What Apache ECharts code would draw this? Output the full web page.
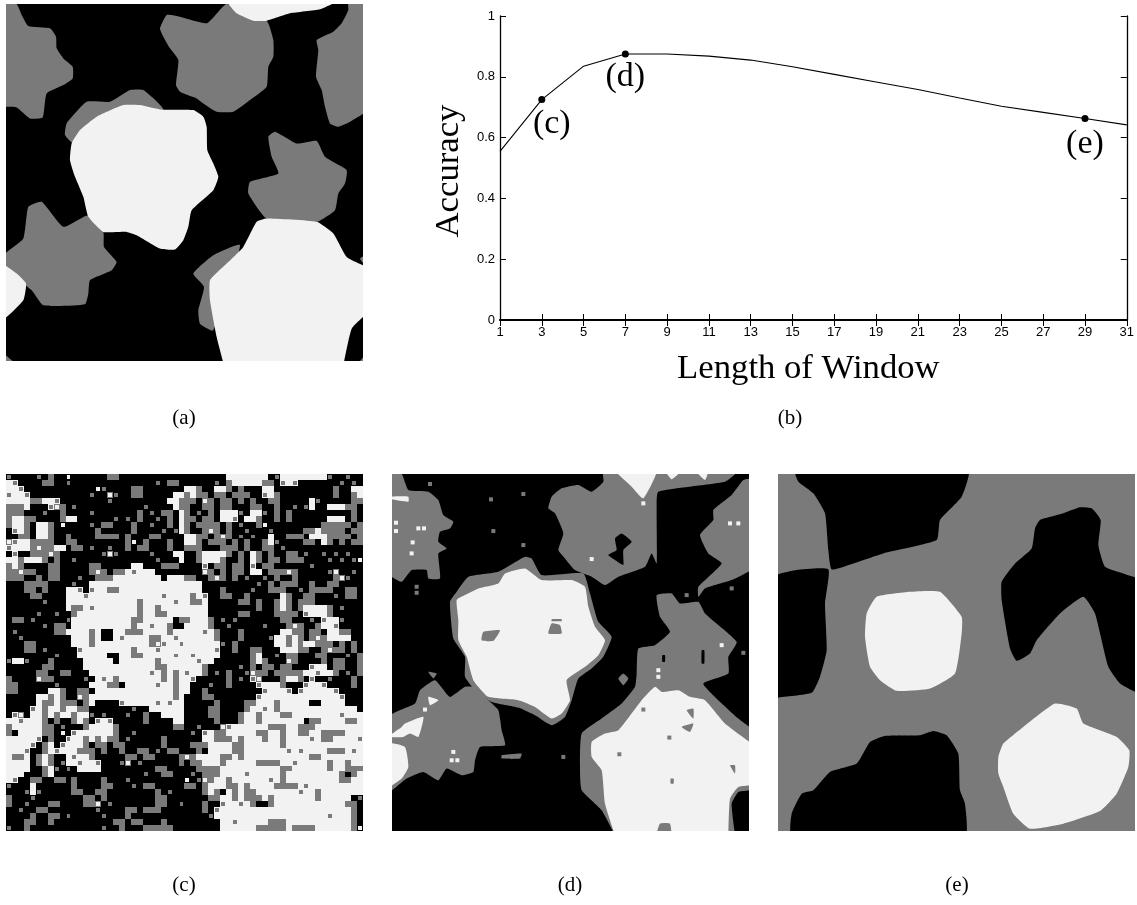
<!DOCTYPE html>
<html>
<head>
<meta charset="utf-8">
<script src="https://cdn.jsdelivr.net/npm/echarts@6/dist/echarts.min.js"></script>
<style>html,body{margin:0;padding:0;background:#fff}#c{width:1137px;height:905px}</style>
</head>
<body>
<div id="c"></div>
<script>
// ---- panel (b): accuracy against window length
const windowLengths = ['1','3','5','7','9','11','13','15','17','19','21','23','25','27','29','31'];
const accuracy = [0.555,0.725,0.835,0.875,0.875,0.868,0.855,0.833,0.808,0.783,0.758,0.73,0.703,0.683,0.663,0.642];
const markedWindows = ['3','7','29'];
const markedNames = ['(c)','(d)','(e)'];
const accuracyTicks = [0,0.2,0.4,0.6,0.8,1];

// ---- panel (a): outlines
const aGrey = [
 [[10,4],[10,4],[50,12],[65,45],[85,78],[150,85],[168,110],[170,145],[190,175],[218,200],[218,235],[190,255],[140,280],[128,352],[90,355],[50,322],[10,320],[10,320]],
 [[500,45],[530,48],[620,70],[655,35],[680,12],[800,62],[820,120],[820,170],[805,200],[800,260],[750,300],[700,335],[650,335],[610,310],[590,295],[540,275],[528,255],[535,180],[510,145],[490,110],[480,85]],
 [[1045,4],[1100,4],[1100,4],[1100,330],[1050,365],[1015,380],[990,370],[975,320],[965,270],[948,230],[955,150],[950,120],[1000,95],[1025,70],[1045,30]],
 [[200,370],[260,305],[330,305],[390,270],[430,270],[490,330],[300,400],[220,430],[195,405]],
 [[805,410],[825,395],[890,430],[950,422],[975,470],[1040,510],[1035,550],[1015,580],[1005,630],[950,665],[800,655],[745,580],[750,545],[835,520],[815,470]],
 [[580,820],[640,765],[720,735],[640,990],[600,970],[595,930],[612,860]],
 [[10,765],[70,715],[85,620],[125,605],[190,680],[265,645],[310,695],[312,740],[350,785],[335,810],[270,840],[265,880],[255,912],[130,915],[95,870],[10,800]],
 [[1075,1090],[1100,1060],[1100,1090]],
 [[10,1060],[45,1090],[10,1090]],
 [[1080,775],[1100,765],[1100,800]]
];
const aWhite = [
 [[680,0],[710,40],[760,62],[800,62],[870,40],[960,28],[1015,0]],
 [[215,430],[240,390],[290,350],[370,315],[420,315],[480,328],[580,330],[610,350],[620,380],[622,450],[640,490],[655,530],[640,570],[575,630],[565,680],[550,720],[525,748],[480,745],[410,705],[380,695],[310,695],[265,650],[250,590],[225,530],[210,480]],
 [[630,840],[680,790],[730,740],[770,665],[800,655],[950,665],[1000,700],[1040,770],[1100,800],[1100,800],[1100,940],[1100,940],[1055,985],[1030,1095],[1030,1095],[672,1095],[672,1095],[650,1010],[630,900]],
 [[10,795],[50,820],[78,850],[70,900],[10,955]]
];

// ---- panel (c): cell classes, . black, g grey, W white
const cTopLeft = [
"g....g.g..W......gg...........","Wg....gg..g..............g.gg.","WWg............Wg....gg.......","gWWg..........g..Wg..gg.....WW","WWWWggWWg........g.........WWg",
"gggW...gWg.g...........g....Wg","ggg...g..g....g.......g.g.gg.W","gWWgg....gWW......g.g.g..g.g.W","gWWg.WWg.W....g.gg...g..g..g.W",".gWg.WWg.......g.....g....g.gW",
"..gg.WWg..g....gggg.g...gg....","WgWWgggg..gg........gW.g...g..","gWWWgWggWW.gg.g..g..g.gg...g..",".g..gggWg.......gWg.....g...WW","WWgWWWg.g..g.............g...W",
"gWg....gg.....gg.....WW...ggg.","ggWgg..gg.....gWg.ggWgWWW.....","ggg..g.gg...g..gggWWWWWWWW.WWW","...gggg....g..WWWWWWWWWWWWWWWW","...gg.g...WWg.gWWggWWWWWWWWWWW",
"....gg....WWWgWWWWWWWWWWWWgWWW","......g...WWWWWWWWWWWWgWWWWWgW","..........WggWgWWWWWWWgWWgWWWW",".....g..g..gWWWWWWWWWWgWWggWWW",".gg.g.....gWWWWWWWWWWggWWWWW.g",
"......g.gg.WWWWWWWWWWgWWgWWg..",".g......ggWWWWgW..WWgggWWWWgWW","..g........WWWgW..WgWWWWggWWgW","...gg......WWWgWWWWWWWWWgWgWWg","...gg.g.....gWWWWWWWWgWWWgWWWW"
];
const cTopRight = [
".......WWWWWWW.gWWWWWWWWg..g..",".....g.gWWWWWgg.gWg.......g.g.","WWg..WWg.g...WW..........g..WW","gWgg.gg.ggg..gWg.........g..gW","gg.Wg.gg.g.g..gg.....Wg.....gg",
"g..gg.gg...gg..g..g.gW..WWWgg.","g.g.g.WWWg.WWg.g.g..........g.","gg.gg.WWg.WWg..g.g......WWW.g.","g.gggg.g.g..gW.........ggggg.g","g..gWg.g..g...g.....ggWgggg.gg",
"WWgg.gWg.g.g..W..ggg.WWWgggg.g","WWg.ggg.g.g..gWg....gg.Wg.g.gg","ggg...ggg.g..gg.g.............","..gWWWWg.g.Wg.g..gg.g..g.g.g..","..gWWWg..g.Wg.gg.ggg....g.g.gW",
"...g.gg.gg.g.gg......g........","...Wg.g.gg.WW.gggWg.....gW..g.","gg..gWg.g.g..g.g..g......gWg..","WWW.........g.g.ggg..g..gg....","WWW...g....g..ggg..g.gggg..gg.",
"WgWg..gg..g.....Wg..gg...g.gg.","WggW.....gg.g..gWg.ggg........","WWWW........g..gWg.gWWWWg.g...","WWWW.....gg....gggg.gWWWg.....","gWWWg.g.g.......gg...g.gWWg...",
"WWWWg..g.....g...gWg..gWWg....","WWWgWg...g......WWgg.gg.WWgg..","WWWWWg...g....gWWgWg.gWgWWWW..","WWWWWWg.g......WWgWgWWggg.g.g.","WWWWWg..g..gg...WWWgg..gWgg.g."
];
const cBottomLeft = [
"........g...WWWWW..WWggWWWWWgW","gWWg...g.....WWWWW.WWWWWWgWWWW","......gg.....WWWWWWWWWWWWggWWW",".....gg..gg...WWWWWWWWWWgWgWgW","g....Wgg.....g.WgWgWWWWWWWgWgW",
"gg......g.....WWWgg.WWWWWgWWgW","gg.....WWg..gg.WWWWWWWWWWWWWgW",".....WWgWg..WgWWWWWWWWWWWWWWgW",".....WggWggg.gW....gWWWWWgWgWW","....gWgWWgWWgg.......g..WWWWWW",
".gW.WWgWgWWgWWg.g...g..g..WWWW","WWgWWWg.g..gWg.gWg.....g....WW","gWWWWWgg.g...gWWWWg.........gg","g.WWWWgg.W.gWWWWWWg..g........","WWWWWg.g..gWWgWgWgg.g.....g...",
"WWWWg.gW.gWWWg.gg.gg......g...","WWWg..gWgWWWggg.g..g..gg.g.gg.","WggW.gWg..WgWWg.....gg.gg....g","WWWW.gWg.gWWgWWg...gW.g......g","WWWW..gWg.g.WWWW.........gg...",
"WWW...gW...............g..gg..","Wg..gg..gg.g....g...g.........","g...W......g....gg...g.gg.....","...gWg.....gg..gg........g.g..","g...g........gg.g........gg...",
"g..g...gg....ggW.g.......gg..g","..g..gg........g....gg.ggg....","....g..gg.g.....g...g.........","...gg..g..........gg.gg...g...","g..g............g..g...ggggg.."
];
const cBottomRight = [
"WgWWWW.....gW..g.gg...gg...g.g","WWgWW......gWg...Wg....g.gg..g","WWWg.....g.g.gg.gg...gWW.gg..g","gWWg.g.g..gWgg.gggggWWgWWg.g.g","Wg.....g.g.gW...gWWg.g..g...g.",
"W...g..g....gWWWg...gWWg....g.","W..g.........gWWWg.gWWWWWg....","...gg.......gWWWWWWWWWWWWWg...",".....g....ggWWWgWWWWW..WWWW...","....gg....gWWgWgWWWWWWWWWWWWW.",
"....gg...gWWgWWWggWWWWWWWWgWWW",".....g...gWWgWWWWWWW.ggWWWWggW","..g...WgWWWWWWgggWWgggWWWWWWWW",".g.gWggWWWWWggWWgWWggWWggggWWW","...WWgggWgWWWgWWgWWWWgWggWWWWg",
".gggWWWWggWWWWWWgWWWWWWWWWWWWW","..g.WWWWggWWWWWWWgWgWWWWgggWgW","WgWWWWggWgWWWWWWWWWWWggWWWWWWW",".ggWWWgWWWWWggggWWgWWWWWgWWgWW","..ggggWWWWWWWWWWggWWWWWWgWWggg",
".g.gggWWWWgWWWWWgWWWWWWWWWg.gW","W.gWgWWgWWWWWWgWgWWWWWWWWWggWW","gg.gWWWggWgWWWWggggWgWWWWWWWWW","...gWg.WgWggWWWWWWWgWWgWWWWWWW","....ggWWgWgggWgWWWWWWWgWWWWW.g",
"...g..gWWgWg..gWWWWWWWWWWWWgg.","...g.gWWWWWWWWWWWWWWWWWWWWWWg.","....gWWWWWWWWWWWWWWWWWWWgWWWg.","......WWgWWWWWgggWWWWWWWWWWWg.","......WWWWWWgggggWggggWWWWWWgW"
];

// ---- panel (d): outlines and specks
const dGrey = [
 [[10,4],[10,4],[50,12],[70,60],[130,65],[160,90],[175,135],[205,155],[195,175],[165,185],[160,215],[185,235],[160,250],[165,325],[130,325],[125,300],[80,300],[50,335],[10,310]],
 [[655,0],[1060,0],[1020,35],[820,65],[815,120],[815,280],[800,250],[780,290],[700,320],[660,345],[620,320],[570,300],[540,265],[520,240],[535,190],[510,130],[490,115],[500,80],[530,55],[580,45],[620,65],[655,35]],
 [[1075,30],[1100,25],[1100,25],[1100,300],[1100,300],[1040,330],[960,355],[940,380],[940,350],[1010,280],[970,250],[945,195],[985,150],[985,120],[1040,75]],
 [[195,395],[215,365],[250,320],[340,305],[420,260],[440,265],[470,315],[595,310],[615,370],[640,455],[680,500],[655,560],[620,595],[580,625],[560,690],[540,740],[500,765],[450,735],[400,712],[320,695],[270,660],[240,620],[240,560],[205,505]],
 [[815,375],[860,370],[885,400],[940,395],[960,430],[1055,515],[1030,560],[1030,610],[955,640],[1000,690],[1060,745],[1100,775],[1100,775],[1100,960],[1100,960],[1060,965],[1040,1000],[1050,1095],[1050,1095],[690,1095],[690,1095],[650,1020],[590,960],[585,900],[590,790],[650,745],[710,700],[750,650],[755,610],[760,535],[810,525],[855,485],[825,440]],
 [[10,740],[90,700],[105,660],[150,630],[195,680],[240,650],[265,650],[310,690],[340,720],[350,780],[360,825],[285,830],[270,870],[265,905],[230,915],[185,895],[160,930],[115,905],[65,925],[10,965]],
 [[700,625],[715,610],[730,625],[715,645]],
 [[130,605],[155,610],[145,625]],
 [[350,855],[410,850],[405,865],[350,865]]
];
const dWhite = [
 [[690,0],[815,0],[775,85],[740,50]],
 [[840,0],[890,0],[860,28]],
 [[930,0],[970,0],[960,30]],
 [[215,390],[240,375],[280,355],[340,340],[360,310],[420,295],[470,330],[560,330],[600,350],[610,410],[630,470],[660,510],[640,555],[600,590],[545,630],[555,690],[530,730],[500,745],[450,710],[400,690],[310,680],[265,630],[245,560],[220,510],[220,450]],
 [[620,815],[660,790],[700,780],[770,690],[810,650],[830,665],[880,660],[915,680],[960,690],[1020,760],[1100,820],[1100,820],[1100,945],[1100,945],[1060,950],[1035,985],[1030,1095],[1030,1095],[690,1095],[690,1095],[660,1000],[650,900],[620,860]],
 [[10,820],[60,830],[70,890],[50,925],[10,950]],
 [[60,760],[115,740],[100,800],[75,790],[55,800],[10,800],[50,770]],
 [[130,680],[160,690],[135,705]],
 [[21,80],[70,80],[70,95],[21,88]]
];
const dGreyOnWhite = [
 [[295,485],[345,480],[325,512],[290,510]],
 [[490,490],[500,460],[525,465],[530,490]],
 [[500,447],[530,447],[530,453],[500,453]],
 [[905,720],[925,715],[925,745]],
 [[890,770],[925,760],[915,785]],
 [[1035,885],[1050,885],[1050,910]],
 [[857,925],[866,925],[866,940],[857,940]],
 [[815,1095],[825,1060],[855,1060],[858,1095]]
];
const dBlack = [
 [[690,205],[710,190],[740,215],[715,240],[715,285],[690,270],[670,255],[695,240]],
 [[1065,985],[1065,985],[1100,985],[1100,985],[1100,1095],[1100,1095],[1065,1095],[1065,1095]],
 [[832,555],[840,555],[840,575],[832,575]],
 [[950,540],[958,540],[958,580],[950,580]]
];
const dWhiteDots = [[33,158],[33,183],[100,175],[117,175],[83,217],[80,250],[620,267],[775,100],[1035,160],[1060,160],[1010,525],[820,600],[820,620],[205,845],[200,870],[217,870],[120,718]];
const dGreyDots = [[135,42],[318,88],[325,183],[415,72],[415,225],[95,350],[95,368],[1075,548],[905,375],[535,860],[1040,355],[853,802],[703,852],[775,718]];

// ---- panel (e): outlines
const eBlack = [
 [[75,0],[595,0],[575,80],[510,150],[500,210],[340,250],[250,280],[185,298],[175,240],[165,130],[130,70],[85,35]],
 [[10,322],[80,300],[175,298],[165,400],[170,540],[150,620],[125,668],[10,684],[10,684]],
 [[795,175],[810,150],[880,130],[930,112],[965,115],[992,150],[985,225],[1005,290],[1060,310],[1105,325],[1105,325],[1105,670],[1105,670],[1050,640],[1015,590],[975,430],[940,380],[870,430],[800,510],[780,550],[740,572],[720,535],[695,390],[695,335],[735,280],[785,235]],
 [[65,1095],[65,1030],[95,970],[130,960],[180,905],[260,880],[300,815],[345,797],[450,795],[490,782],[530,795],[565,850],[570,960],[585,1000],[585,1095]]
];
const eWhite = [
 [[290,430],[320,380],[420,365],[510,365],[575,440],[575,490],[555,610],[480,655],[380,662],[330,630],[300,590],[285,500]],
 [[685,860],[700,820],[760,770],[855,700],[920,715],[940,760],[1040,800],[1078,840],[1075,890],[1040,970],[990,1022],[880,1060],[780,1075],[730,1030],[700,950],[685,910]]
];

// ---- styling
const BLACK = '#000000', GREY = '#7a7a7a', WHITE = '#f2f2f2';
const SERIF = '"Liberation Serif","Times New Roman",serif';
const SANS = '"Liberation Sans",Arial,sans-serif';
const panelLabels = [['(a)',184,418],['(b)',790,418],['(c)',184,885],['(d)',570,885],['(e)',957,885]];
const markLabelOffsets = [[10,4],[0,3],[0,5]];

function polySeries(polys, color, idx) {
  return {
    type: 'custom', xAxisIndex: idx, yAxisIndex: idx, silent: true, clip: true,
    data: polys.map((p, i) => [i]),
    renderItem: (params, api) => ({
      type: 'polygon',
      shape: { points: polys[params.dataIndex].map(pt => api.coord(pt)), smooth: 0.15 },
      style: { fill: color }
    })
  };
}
function dotSeries(points, color, idx) {
  return { type: 'scatter', xAxisIndex: idx, yAxisIndex: idx, silent: true, symbol: 'rect', symbolSize: 4,
    itemStyle: { color, opacity: 1 }, data: points };
}

const cRows = cTopLeft.map((r, i) => r.padEnd(30, '.').slice(0, 30) + cTopRight[i].padEnd(30, '.').slice(0, 30))
  .concat(cBottomLeft.map((r, i) => r.padEnd(30, '.').slice(0, 30) + cBottomRight[i].padEnd(30, '.').slice(0, 30)));
const cCells = [];
cRows.forEach((row, y) => [...row].forEach((ch, x) => {
  if (ch !== '.') cCells.push([x, y, ch === 'W' ? 2 : 1]);
}));
const cIndex = cRows.map((r, i) => String(i));
// A cell with no neighbour of its own class is a thin speck: it is drawn smaller,
// over the class most of its neighbours belong to.
function cNeighbours(x, y) {
  return [[x - 1, y], [x + 1, y], [x, y - 1], [x, y + 1]].map(([a, b]) => (cRows[b] && cRows[b][a]) || '.');
}
function cCellItem(params, api) {
  const x = api.value(0), y = api.value(1);
  const c = api.coord([x, y]), s = api.size([1, 1]);
  const l = Math.round(c[0] - s[0] / 2), r = Math.round(c[0] + s[0] / 2);
  const t = Math.round(c[1] - s[1] / 2), b = Math.round(c[1] + s[1] / 2);
  const own = cRows[y][x], around = cNeighbours(x, y);
  const fill = own === 'W' ? WHITE : GREY;
  const whole = { type: 'rect', shape: { x: l, y: t, width: r - l, height: b - t }, style: { fill } };
  if (around.includes(own)) return whole;
  const count = k => around.filter(n => n === k).length;
  const under = count('W') >= 2 ? WHITE : count('g') >= 2 ? GREY : null;
  const speck = { type: 'rect', shape: { x: l + 1, y: t + 1, width: r - l - 2, height: b - t - 2 }, style: { fill } };
  if (!under) return speck;
  return { type: 'group', children: [
    { type: 'rect', shape: { x: l, y: t, width: r - l, height: b - t }, style: { fill: under } }, speck ] };
}

const hidden = { show: false };
function imgX(gridIndex, a, b) { return { type: 'value', gridIndex, min: a, max: b, ...hidden }; }
function imgY(gridIndex) { return { type: 'value', gridIndex, min: 12, max: 1082, inverse: true, ...hidden }; }

const option = {
  animation: false,
  backgroundColor: '#ffffff',
  grid: [
    { left: 6, top: 4, width: 357, height: 357, show: true, backgroundColor: BLACK, borderWidth: 0 },
    { left: 500, top: 16, width: 627, height: 304 },
    { left: 6, top: 474, width: 357, height: 357, show: true, backgroundColor: BLACK, borderWidth: 0 },
    { left: 392, top: 474, width: 357, height: 357, show: true, backgroundColor: BLACK, borderWidth: 0 },
    { left: 778, top: 474, width: 357, height: 357, show: true, backgroundColor: GREY, borderWidth: 0 }
  ],
  xAxis: [
    imgX(0, 18, 1089),
    { type: 'category', gridIndex: 1, data: windowLengths, boundaryGap: false,
      name: 'Length of Window', nameLocation: 'middle', nameGap: 31,
      nameTextStyle: { fontFamily: SERIF, fontSize: 34.7, color: '#000', padding: [0, 10, 0, 0] },
      axisLine: { lineStyle: { color: '#000', width: 2 } },
      axisTick: { inside: true, length: 6, alignWithLabel: true, lineStyle: { color: '#000', width: 1 } },
      axisLabel: { interval: 0, margin: 6, fontFamily: SANS, fontSize: 13, color: '#000' },
      splitLine: { show: false } },
    { type: 'category', gridIndex: 1, data: windowLengths, boundaryGap: false, position: 'top',
      axisLine: { lineStyle: { color: '#000', width: 1.5 } },
      axisTick: { inside: true, length: 6, lineStyle: { color: '#000', width: 1 } },
      axisLabel: { show: false }, splitLine: { show: false } },
    { type: 'category', gridIndex: 2, data: cIndex, ...hidden },
    imgX(3, 21, 1092),
    imgX(4, 24, 1095)
  ],
  yAxis: [
    imgY(0),
    { type: 'value', gridIndex: 1, min: 0, max: 1, interval: 0.2,
      name: 'Accuracy', nameLocation: 'middle', nameGap: 29,
      nameTextStyle: { fontFamily: SERIF, fontSize: 34.7, color: '#000', padding: [0, 6, 0, 0] },
      axisLine: { show: true, lineStyle: { color: '#000', width: 1.3 } },
      axisTick: { show: true, inside: true, length: 6, lineStyle: { color: '#000', width: 1 } },
      axisLabel: { margin: 5, fontFamily: SANS, fontSize: 13, color: '#000',
        formatter: v => accuracyTicks.includes(+v.toFixed(1)) ? String(+v.toFixed(1)) : '' },
      splitLine: { show: false } },
    { type: 'value', gridIndex: 1, min: 0, max: 1, interval: 0.2, position: 'right',
      axisLine: { show: true, lineStyle: { color: '#000', width: 1.3 } },
      axisTick: { show: true, inside: true, length: 6, lineStyle: { color: '#000', width: 1 } },
      axisLabel: { show: false }, splitLine: { show: false } },
    { type: 'category', gridIndex: 2, data: cIndex, inverse: true, ...hidden },
    imgY(3),
    imgY(4)
  ],
  series: [
    polySeries(aGrey, GREY, 0),
    polySeries(aWhite, WHITE, 0),
    { type: 'custom', xAxisIndex: 3, yAxisIndex: 3, silent: true, clip: true, data: cCells,
      encode: { x: 0, y: 1 }, renderItem: cCellItem },
    polySeries(dGrey, GREY, 4),
    polySeries(dWhite, WHITE, 4),
    polySeries(dGreyOnWhite, GREY, 4),
    polySeries(dBlack, BLACK, 4),
    dotSeries(dWhiteDots, WHITE, 4),
    dotSeries(dGreyDots, GREY, 4),
    polySeries(eBlack, BLACK, 5),
    polySeries(eWhite, WHITE, 5),
    { type: 'line', xAxisIndex: 1, yAxisIndex: 1, data: accuracy, showSymbol: false, silent: true,
      lineStyle: { color: '#000', width: 1.1 } },
    { type: 'scatter', xAxisIndex: 1, yAxisIndex: 1, symbolSize: 7, silent: true,
      itemStyle: { color: '#000', opacity: 1 },
      data: markedWindows.map((w, i) => {
        const k = windowLengths.indexOf(w);
        return { value: [k, accuracy[k]], name: markedNames[i],
          label: { show: true, position: 'bottom', distance: 0, offset: markLabelOffsets[i],
            formatter: markedNames[i], fontFamily: SERIF, fontSize: 34, color: '#000' } };
      }) }
  ],
  graphic: panelLabels.map(([text, x, y]) => ({
    type: 'text', silent: true,
    style: { text, x, y, align: 'center', verticalAlign: 'middle', font: '21px ' + SERIF, fill: '#000' }
  }))
};
const chart = echarts.init(document.getElementById('c'), null, { renderer: 'canvas' });
chart.setOption(option);
</script>
</body>
</html>
